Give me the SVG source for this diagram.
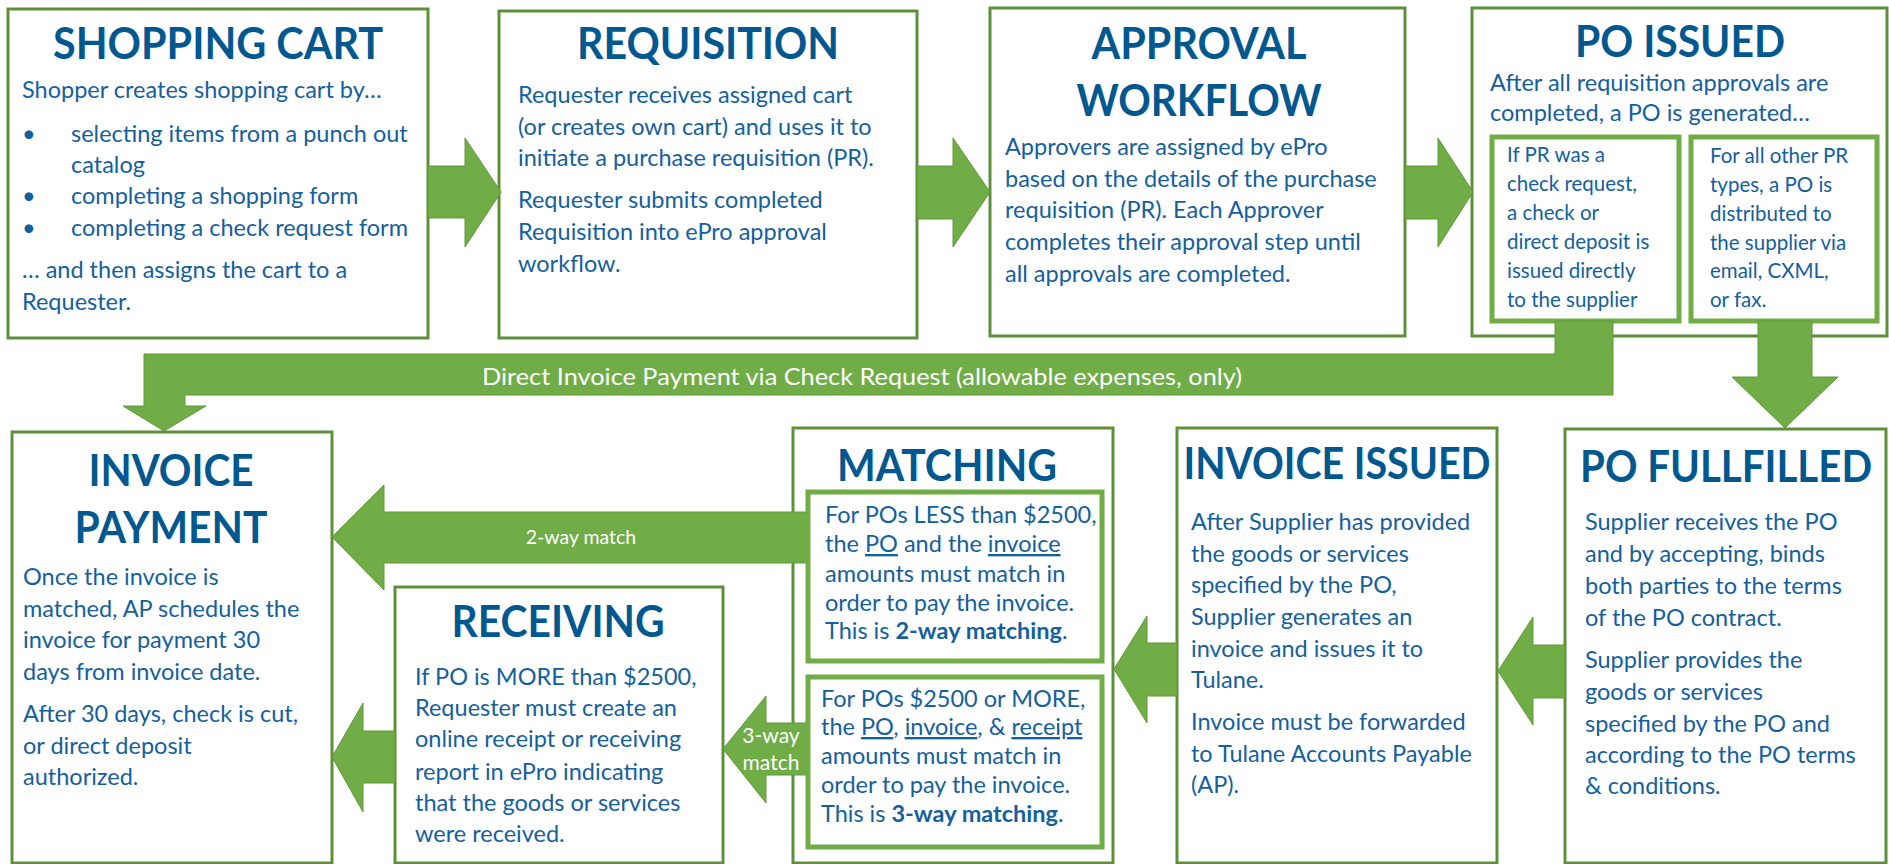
<svg xmlns="http://www.w3.org/2000/svg" width="1889" height="864" viewBox="0 0 1889 864">
<style>
.box{fill:#fff;stroke:#5E8F3A;stroke-width:3}
.ibox{fill:#fff;stroke:#70AD47;stroke-width:5}
.arrow{fill:#70AD47;stroke:#62993B;stroke-width:1}
.t{font-family:Lato,"Liberation Sans",sans-serif;font-weight:700;font-size:43px;fill:#00588F;text-anchor:middle}
.b{font-family:Lato,"Liberation Sans",sans-serif;font-size:23.5px;fill:#14609C}
.s{font-size:20.5px}
.w{font-family:Lato,"Liberation Sans",sans-serif;fill:#fff}
.u{text-decoration:underline}
.bd{font-weight:700}
</style>
<rect width="1889" height="864" fill="#fff"/>

<g id="shopping-cart">
<rect class="box" x="8" y="9" width="420" height="329"/>
<text class="t" x="218" y="59" textLength="330" lengthAdjust="spacingAndGlyphs">SHOPPING CART</text>
<text class="b" x="22" y="98">Shopper creates shopping cart by…</text>
<text class="b" x="22" y="142">•</text>
<text class="b" x="71" y="142">selecting items from a punch out</text>
<text class="b" x="71" y="173">catalog</text>
<text class="b" x="22" y="204">•</text>
<text class="b" x="71" y="204">completing a shopping form</text>
<text class="b" x="22" y="236">•</text>
<text class="b" x="71" y="236">completing a check request form</text>
<text class="b" x="22" y="278">… and then assigns the cart to a</text>
<text class="b" x="22" y="310">Requester.</text>
</g>

<g id="requisition">
<rect class="box" x="499" y="11" width="418" height="327"/>
<text class="t" x="708" y="59" textLength="262" lengthAdjust="spacingAndGlyphs">REQUISITION</text>
<text class="b" x="518" y="103">Requester receives assigned cart</text>
<text class="b" x="518" y="135">(or creates own cart) and uses it to</text>
<text class="b" x="518" y="166">initiate a purchase requisition (PR).</text>
<text class="b" x="518" y="208">Requester submits completed</text>
<text class="b" x="518" y="240">Requisition into ePro approval</text>
<text class="b" x="518" y="272">workflow.</text>
</g>

<g id="approval-workflow">
<rect class="box" x="990" y="8" width="415" height="328"/>
<text class="t" x="1199" y="59" textLength="215" lengthAdjust="spacingAndGlyphs">APPROVAL</text>
<text class="t" x="1199" y="116" textLength="245" lengthAdjust="spacingAndGlyphs">WORKFLOW</text>
<text class="b" x="1005" y="155">Approvers are assigned by ePro</text>
<text class="b" x="1005" y="187">based on the details of the purchase</text>
<text class="b" x="1005" y="218">requisition (PR). Each Approver</text>
<text class="b" x="1005" y="250">completes their approval step until</text>
<text class="b" x="1005" y="282">all approvals are completed.</text>
</g>

<g id="po-issued">
<rect class="box" x="1472" y="8" width="415" height="328"/>
<text class="t" x="1680" y="57" textLength="210" lengthAdjust="spacingAndGlyphs">PO ISSUED</text>
<text class="b" x="1490" y="91">After all requisition approvals are</text>
<text class="b" x="1490" y="121">completed, a PO is generated…</text>
<rect class="ibox" x="1492" y="137" width="187" height="184"/>
<text class="b s" x="1507" y="162">If PR was a</text>
<text class="b s" x="1507" y="191">check request,</text>
<text class="b s" x="1507" y="220">a check or</text>
<text class="b s" x="1507" y="249">direct deposit is</text>
<text class="b s" x="1507" y="278">issued directly</text>
<text class="b s" x="1507" y="307">to the supplier</text>
<rect class="ibox" x="1691" y="137" width="186" height="184"/>
<text class="b s" x="1710" y="163">For all other PR</text>
<text class="b s" x="1710" y="192">types, a PO is</text>
<text class="b s" x="1710" y="221">distributed to</text>
<text class="b s" x="1710" y="250">the supplier via</text>
<text class="b s" x="1710" y="278">email, CXML,</text>
<text class="b s" x="1710" y="307">or fax.</text>
</g>

<g id="invoice-payment">
<rect class="box" x="12" y="432" width="320" height="431"/>
<text class="t" x="171" y="486" textLength="165" lengthAdjust="spacingAndGlyphs">INVOICE</text>
<text class="t" x="171" y="543" textLength="193" lengthAdjust="spacingAndGlyphs">PAYMENT</text>
<text class="b" x="23" y="585">Once the invoice is</text>
<text class="b" x="23" y="617">matched, AP schedules the</text>
<text class="b" x="23" y="648">invoice for payment 30</text>
<text class="b" x="23" y="680">days from invoice date.</text>
<text class="b" x="23" y="722">After 30 days, check is cut,</text>
<text class="b" x="23" y="754">or direct deposit</text>
<text class="b" x="23" y="785">authorized.</text>
</g>

<g id="receiving">
<rect class="box" x="395" y="587" width="328" height="276"/>
<text class="t" x="558" y="637" textLength="213" lengthAdjust="spacingAndGlyphs">RECEIVING</text>
<text class="b" x="415" y="685">If PO is MORE than $2500,</text>
<text class="b" x="415" y="716">Requester must create an</text>
<text class="b" x="415" y="747">online receipt or receiving</text>
<text class="b" x="415" y="780">report in ePro indicating</text>
<text class="b" x="415" y="811">that the goods or services</text>
<text class="b" x="415" y="842">were received.</text>
</g>

<g id="matching">
<rect class="box" x="793" y="428" width="320" height="435"/>
<text class="t" x="947" y="481" textLength="220" lengthAdjust="spacingAndGlyphs">MATCHING</text>
</g>

<g id="invoice-issued">
<rect class="box" x="1177" y="428" width="320" height="435"/>
<text class="t" x="1337" y="479" textLength="307" lengthAdjust="spacingAndGlyphs">INVOICE ISSUED</text>
<text class="b" x="1191" y="530">After Supplier has provided</text>
<text class="b" x="1191" y="562">the goods or services</text>
<text class="b" x="1191" y="593">specified by the PO,</text>
<text class="b" x="1191" y="625">Supplier generates an</text>
<text class="b" x="1191" y="657">invoice and issues it to</text>
<text class="b" x="1191" y="688">Tulane.</text>
<text class="b" x="1191" y="730">Invoice must be forwarded</text>
<text class="b" x="1191" y="762">to Tulane Accounts Payable</text>
<text class="b" x="1191" y="793">(AP).</text>
</g>

<g id="po-fulfilled">
<rect class="box" x="1565" y="429" width="321" height="434"/>
<text class="t" x="1726" y="482" textLength="292" lengthAdjust="spacingAndGlyphs">PO FULLFILLED</text>
<text class="b" x="1585" y="530">Supplier receives the PO</text>
<text class="b" x="1585" y="562">and by accepting, binds</text>
<text class="b" x="1585" y="594">both parties to the terms</text>
<text class="b" x="1585" y="626">of the PO contract.</text>
<text class="b" x="1585" y="668">Supplier provides the</text>
<text class="b" x="1585" y="700">goods or services</text>
<text class="b" x="1585" y="732">specified by the PO and</text>
<text class="b" x="1585" y="763">according to the PO terms</text>
<text class="b" x="1585" y="794">&amp; conditions.</text>
</g>

<g id="connectors">
<path class="arrow" d="M428,166 H465 V138 L501,192 L465,247 V218 H428 Z"/>
<path class="arrow" d="M917,166 H953 V138 L990,192 L953,247 V219 H917 Z"/>
<path class="arrow" d="M1405,166 H1438 V138 L1473,192 L1438,247 V219 H1405 Z"/>
<path class="arrow" d="M1555,321 H1613 V395 H185 V406 H206 L164,431 L123,406 H144 V354 H1555 Z"/>
<text class="w" x="482" y="385" font-size="23" textLength="760" lengthAdjust="spacingAndGlyphs">Direct Invoice Payment via Check Request (allowable expenses, only)</text>
<path class="arrow" d="M1758,321 H1812 V377 H1838 L1785,428 L1732,377 H1758 Z"/>
<path class="arrow" d="M1565,645 V698 H1533 V725 L1498,671 L1533,617 V645 Z"/>
<path class="arrow" d="M1177,643 V696 H1147 V723 L1114,669 L1147,616 V643 Z"/>
<path class="arrow" d="M807,512 V563 H384 V590 L332,537 L384,485 V512 Z"/>
<text class="w" x="581" y="544" font-size="19.5" text-anchor="middle">2-way match</text>
<path class="arrow" d="M807,723 V775 H766 V803 L723,749 L766,696 V723 Z"/>
<text class="w" x="771" y="743" font-size="21" text-anchor="middle">3-way</text>
<text class="w" x="771" y="770" font-size="21" text-anchor="middle">match</text>
<path class="arrow" d="M395,731 V783 H363 V812 L332,757 L363,703 V731 Z"/>
</g>

<g id="matching-rules">
<rect class="ibox" x="808" y="492" width="294" height="169"/>
<text class="b" x="825" y="523">For POs LESS than $2500,</text>
<text class="b" x="825" y="552">the <tspan class="u">PO</tspan> and the <tspan class="u">invoice</tspan></text>
<text class="b" x="825" y="582">amounts must match in</text>
<text class="b" x="825" y="611">order to pay the invoice.</text>
<text class="b" x="825" y="639">This is <tspan class="bd">2-way matching</tspan>.</text>
<rect class="ibox" x="808" y="677" width="294" height="170"/>
<text class="b" x="821" y="707">For POs $2500 or MORE,</text>
<text class="b" x="821" y="735">the <tspan class="u">PO</tspan>, <tspan class="u">invoice</tspan>, &amp; <tspan class="u">receipt</tspan></text>
<text class="b" x="821" y="764">amounts must match in</text>
<text class="b" x="821" y="793">order to pay the invoice.</text>
<text class="b" x="821" y="822">This is <tspan class="bd">3-way matching</tspan>.</text>
</g>
</svg>
